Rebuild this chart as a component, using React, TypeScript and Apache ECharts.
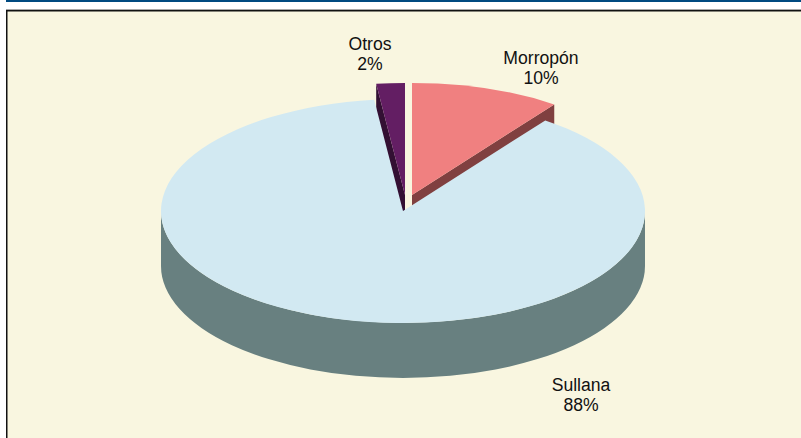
import React, { useEffect, useRef } from "react";
import * as echarts from "echarts";

const categories = ["Morropón", "Otros", "Sullana"];
const shares = [10, 1.9, 88.1];
const topColors = ["#F08080", "#631E63", "#D2E9F2"];
const sideColors = ["#804040", "#331033", "#688080"];

const FONT = "'Liberation Sans', Arial, sans-serif";
const RX = 242;
const RY = 112;
const DEPTH = 55;
const CENTER = [403, 211];
const sliceCenters = [[412, 195], [405, 195], [403, 211]];
const labelCenters = [[541, 68], [370, 54], [581, 395]];

// Clockwise from 12 o'clock: Morropón, Sullana, Otros.
const sweepOrder = [0, 2, 1];
const angleRange = (idx: number): [number, number] => {
  let start = 0;
  for (const i of sweepOrder) {
    const sweep = (shares[i] / 100) * 2 * Math.PI;
    if (i === idx) return [start, start + sweep];
    start += sweep;
  }
  return [0, 0];
};

const pt = (c: number[], a: number, dy = 0) =>
  [c[0] + RX * Math.sin(a), c[1] - RY * Math.cos(a) + dy].map((v) => +v.toFixed(2));

const topPath = (c: number[], a0: number, a1: number) => {
  const p0 = pt(c, a0);
  const p1 = pt(c, a1);
  const large = a1 - a0 > Math.PI ? 1 : 0;
  return `M${c[0]} ${c[1]}L${p0[0]} ${p0[1]}A${RX} ${RY} 0 ${large} 1 ${p1[0]} ${p1[1]}Z`;
};

const radialSide = (c: number[], a: number) => {
  const p = pt(c, a);
  return `M${c[0]} ${c[1]}L${p[0]} ${p[1]}L${p[0]} ${p[1] + DEPTH}L${c[0]} ${c[1] + DEPTH}Z`;
};

const rimSide = (c: number[], a0: number, a1: number) => {
  const from = Math.max(a0, Math.PI / 2);
  const to = Math.min(a1, (3 * Math.PI) / 2);
  if (to <= from) return "";
  const p0 = pt(c, from);
  const p1 = pt(c, to);
  return (
    `M${p0[0]} ${p0[1]}A${RX} ${RY} 0 0 1 ${p1[0]} ${p1[1]}` +
    `L${p1[0]} ${p1[1] + DEPTH}A${RX} ${RY} 0 0 0 ${p0[0]} ${p0[1] + DEPTH}Z`
  );
};

export default function App() {
  const ref = useRef<HTMLDivElement>(null);
  useEffect(() => {
    document.body.style.margin = "0";
    document.body.style.background = "#FFFFFF";
    const chart = echarts.init(ref.current!, undefined, { renderer: "svg" });
    chart.setOption({
      animation: false,
      backgroundColor: "#FFFFFF",
      graphic: [
        { type: "rect", z: -10, shape: { x: 6, y: 0, width: 795, height: 2 }, style: { fill: "#004A80" } },
        { type: "rect", z: -10, shape: { x: 6, y: 9, width: 795, height: 1 }, style: { fill: "#A8A8A8" } },
        { type: "rect", z: -10, shape: { x: 6, y: 10, width: 795, height: 428 }, style: { fill: "#111111" } },
        { type: "rect", z: -9, shape: { x: 7.5, y: 11.5, width: 793.5, height: 426.5 }, style: { fill: "#F9F6E0" } },
      ],
      series: [
        {
          type: "custom",
          coordinateSystem: "none",
          silent: true,
          data: categories.map((name, i) => ({ name, value: shares[i] })),
          renderItem: (params: any) => {
            const i = params.dataIndex;
            const c = sliceCenters[i] ?? CENTER;
            const [a0, a1] = angleRange(i);
            const sideFill = { fill: sideColors[i] };
            const children: any[] = [];
            // Morropón shows its trailing radial face, Otros its leading one.
            if (i === 0) children.push({ type: "path", shape: { pathData: radialSide(c, a1) }, style: sideFill });
            if (i === 1) children.push({ type: "path", shape: { pathData: radialSide(c, a0) }, style: sideFill });
            const rim = rimSide(c, a0, a1);
            if (rim) children.push({ type: "path", shape: { pathData: rim }, style: sideFill });
            children.push({ type: "path", shape: { pathData: topPath(c, a0, a1) }, style: { fill: topColors[i] } });
            children.push({
              type: "text",
              style: {
                x: labelCenters[i][0],
                y: labelCenters[i][1],
                text: `${categories[i]}\n${Math.round(shares[i])}%`,
                fill: "#111111",
                font: `17.6px ${FONT}`,
                lineHeight: 20.5,
                align: "center",
                verticalAlign: "middle",
              },
            });
            return { type: "group", children };
          },
        },
      ],
    });
    return () => chart.dispose();
  }, []);
  return <div ref={ref} style={{ width: 801, height: 438 }} />;
}
